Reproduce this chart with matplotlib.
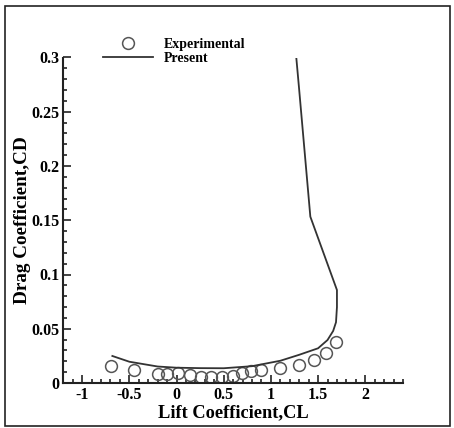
import matplotlib
matplotlib.use("Agg")
import matplotlib.pyplot as plt
from matplotlib.ticker import MultipleLocator, FuncFormatter
from matplotlib.patches import Rectangle

# Experimental drag polar
exp_cl = [-0.69, -0.456, -0.198, -0.099, 0.018, 0.138, 0.258, 0.37, 0.487, 0.597,
          0.696, 0.792, 0.9, 1.1, 1.3, 1.462, 1.588, 1.69]
exp_cd = [0.0155, 0.0124, 0.0086, 0.0086, 0.0092, 0.0070, 0.0058, 0.0055, 0.0052, 0.0062,
          0.0089, 0.0107, 0.0120, 0.0135, 0.0166, 0.0211, 0.0277, 0.0379]

# Present computation
pre_cl = [-0.68, -0.5, -0.2, 0.0, 0.25, 0.5, 0.8, 1.1, 1.3, 1.5, 1.6, 1.66, 1.69,
          1.70, 1.70, 1.418, 1.297, 1.269]
pre_cd = [0.0249, 0.0196, 0.0152, 0.0141, 0.0137, 0.0136, 0.0155, 0.0205, 0.026, 0.032,
          0.0396, 0.0480, 0.0560, 0.0700, 0.0857, 0.1533, 0.273, 0.300]

W, H = 454, 428
fig = plt.figure(figsize=(W / 100, H / 100), dpi=100)
fig.patches.append(Rectangle((5 / W, 2 / H), (W - 9) / W, (H - 8) / H, transform=fig.transFigure,
                             fill=False, edgecolor="#222222", linewidth=1.2))

ax = fig.add_axes([63.3 / W, 1 - 383 / H, (403 - 63.3) / W, (383 - 57.5) / H])

ax.plot(exp_cl, exp_cd, linestyle="none", marker="o", markersize=8.5, markerfacecolor="none",
        markeredgecolor="#555555", markeredgewidth=1.1, label="Experimental")
ax.plot(pre_cl, pre_cd, color="#333333", linewidth=1.3, label="Present")

ax.set_xlim(-1.2, 2.4)
ax.set_ylim(0, 0.3)
ax.spines["top"].set_visible(False)
ax.spines["right"].set_visible(False)
for s in ("left", "bottom"):
    ax.spines[s].set_linewidth(1.5)
    ax.spines[s].set_color("#222222")

ax.xaxis.set_major_locator(MultipleLocator(0.5))
ax.xaxis.set_minor_locator(MultipleLocator(0.1))
ax.yaxis.set_major_locator(MultipleLocator(0.05))
ax.yaxis.set_minor_locator(MultipleLocator(0.01))
fmt = FuncFormatter(lambda v, p: ("%g" % round(v, 3)))
ax.xaxis.set_major_formatter(fmt)
ax.yaxis.set_major_formatter(fmt)
ax.tick_params(which="both", direction="in", color="#222222", width=1.2)
ax.tick_params(which="major", length=6, labelsize=11.5, pad=3)
ax.tick_params(which="minor", length=3)
for lab in ax.get_xticklabels() + ax.get_yticklabels():
    lab.set_fontfamily("Liberation Serif")
    lab.set_fontweight("bold")

ax.set_xlabel("Lift Coefficient,CL", fontfamily="Liberation Serif", fontweight="bold",
              fontsize=13.2, labelpad=1)
ax.set_ylabel("Drag Coefficient,CD", fontfamily="Liberation Serif", fontweight="bold",
              fontsize=13.8, va="center")
ax.yaxis.set_label_coords(-0.121, 0.5)

leg = ax.legend(loc="upper left", bbox_to_anchor=(96 / W, 1 - 31 / H),
                bbox_transform=fig.transFigure, frameon=False, borderpad=0,
                handlelength=3.6, handletextpad=0.8, labelspacing=0.05,
                prop={"family": "Liberation Serif", "weight": "bold", "size": 10})

fig.savefig("out.png", dpi=100)
